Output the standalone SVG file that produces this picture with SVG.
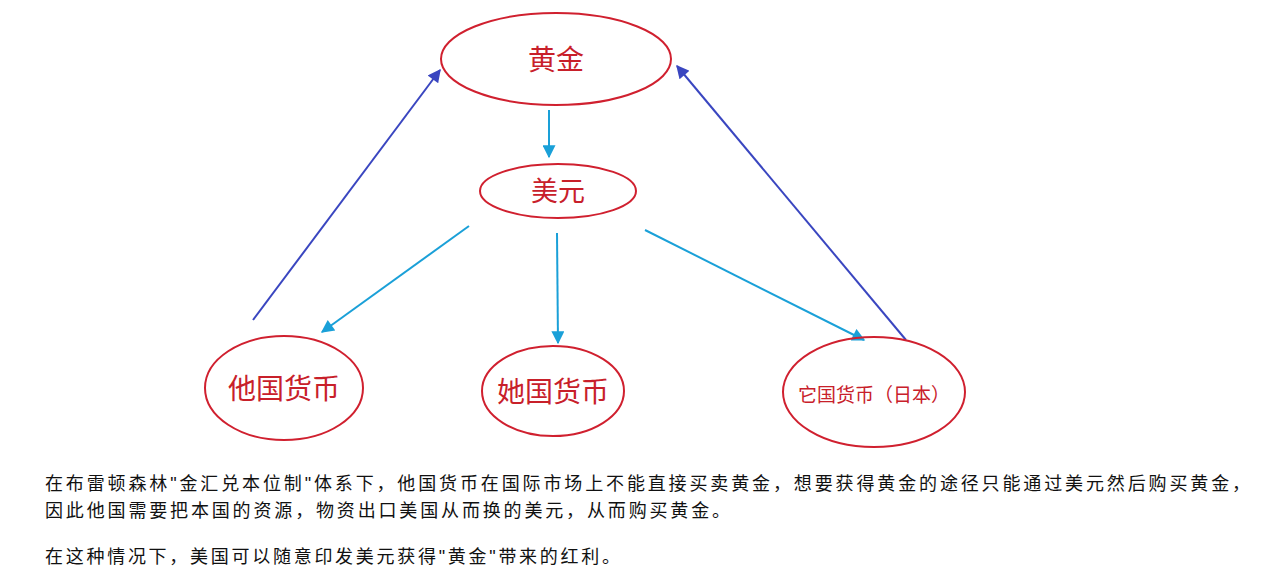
<svg xmlns="http://www.w3.org/2000/svg" width="1276" height="583" viewBox="0 0 1276 583">
<defs>
<style>
.n{fill:none;stroke:#d0202f;stroke-width:2}
.t{fill:#c8202a;font-family:"Liberation Serif","Noto Sans CJK SC",serif;text-anchor:middle}
.c{stroke:#1aa0d8;stroke-width:2;fill:none;marker-end:url(#mc)}
.b{stroke:#3a46c0;stroke-width:2;fill:none;marker-end:url(#mb)}
.p{font-family:"Liberation Sans","Noto Sans CJK SC",sans-serif;font-size:18px;fill:#111}
</style>
<marker id="mc" viewBox="0 0 10 10" refX="9" refY="5" markerWidth="15" markerHeight="13" orient="auto" markerUnits="userSpaceOnUse"><path d="M0,0L10,5L0,10z" fill="#1aa0d8"/></marker>
<marker id="mb" viewBox="0 0 10 10" refX="9" refY="5" markerWidth="15" markerHeight="13" orient="auto" markerUnits="userSpaceOnUse"><path d="M0,0L10,5L0,10z" fill="#3a46c0"/></marker>
</defs>
<rect width="1276" height="583" fill="#fff"/>
<g id="connectors">
<line class="c" x1="549" y1="110" x2="549" y2="157"/>
<line class="c" x1="469" y1="226" x2="322" y2="332"/>
<line class="c" x1="557" y1="233" x2="558" y2="343"/>
<line class="c" x1="645" y1="230" x2="864" y2="340"/>
<line class="b" x1="253" y1="320" x2="440" y2="70"/>
<line class="b" x1="906" y1="340" x2="677" y2="66"/>
</g>
<g id="gold"><ellipse class="n" cx="556" cy="59" rx="115" ry="46"/><text class="t" x="556" y="70" font-size="28">黄金</text></g>
<g id="usd"><ellipse class="n" cx="558" cy="191" rx="78" ry="27"/><text class="t" x="558" y="201" font-size="27">美元</text></g>
<g id="c1"><ellipse class="n" cx="284" cy="388" rx="79" ry="52"/><text class="t" x="284" y="399" font-size="28">他国货币</text></g>
<g id="c2"><ellipse class="n" cx="553" cy="391" rx="71" ry="45"/><text class="t" x="553" y="402" font-size="28">她国货币</text></g>
<g id="c3"><ellipse class="n" cx="874" cy="392" rx="91" ry="55"/><text class="t" x="874" y="402" font-size="19">它国货币（日本）</text></g>
<text class="p" x="45" y="490" textLength="1205" lengthAdjust="spacing">在布雷顿森林"金汇兑本位制"体系下，他国货币在国际市场上不能直接买卖黄金，想要获得黄金的途径只能通过美元然后购买黄金，</text>
<text class="p" x="45" y="517" textLength="685" lengthAdjust="spacing">因此他国需要把本国的资源，物资出口美国从而换的美元，从而购买黄金。</text>
<text class="p" x="45" y="563" textLength="575" lengthAdjust="spacing">在这种情况下，美国可以随意印发美元获得"黄金"带来的红利。</text>
</svg>
